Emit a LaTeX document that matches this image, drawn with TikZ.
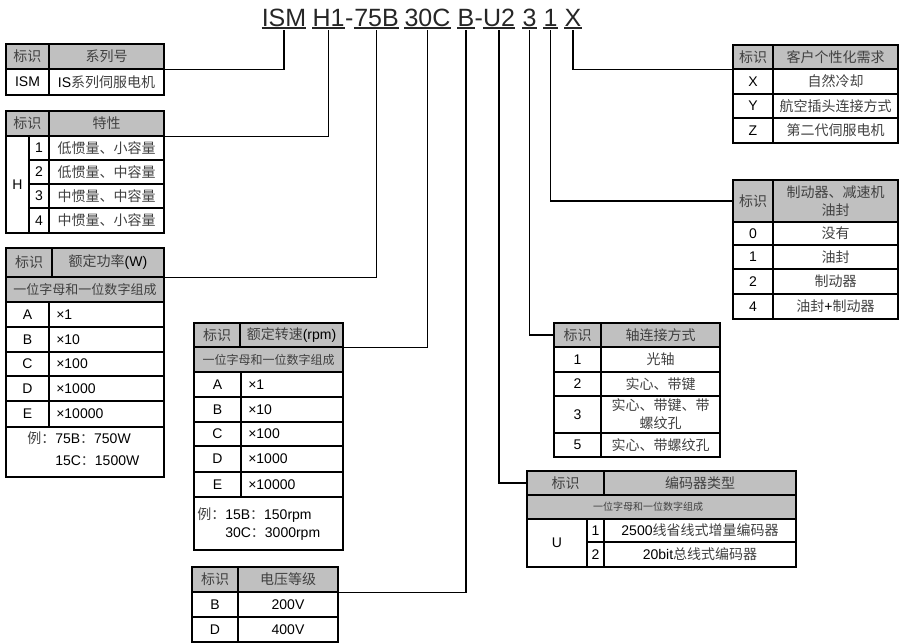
\documentclass[tikz,border=0pt]{standalone}
\usepackage{fontspec}
\setmainfont{Liberation Sans}
\newfontfamily\cjk{Noto Sans CJK SC}
\usetikzlibrary{fit}
\definecolor{hdr}{HTML}{C0C0C0}
\definecolor{cjkc}{HTML}{404040}
\newcommand\cj[1]{{\cjk\color{cjkc}#1}}
\newcommand\cel[7]{\node[cellbox,#6,fit={(#2,#3)(#4,#5)}] (#1) {};
  \node[txt,align=center] (#1t) at (#1.center) {#7};}
\begin{document}
\begin{tikzpicture}[x=0.75pt,y=-0.75pt,
  cellbox/.style={draw=black,line width=0.9pt,inner sep=0pt},
  hd/.style={fill=hdr},
  txt/.style={inner sep=0pt,font=\fontsize{10.5}{13.5}\selectfont},
  conn/.style={draw=black,line width=0.9pt},
  ttl/.style={inner sep=0pt,anchor=base,text=black!85,font=\fontsize{18.75}{20}\selectfont}]
\useasboundingbox (0,0) rectangle (903,643);

% ---------- title ----------
\node[ttl] (tISM) at (284,26) {ISM};
\node[ttl] (tH1) at (328.5,26) {H1};
\node[ttl] (tda) at (349.4,26) {-};
\node[ttl] (t75B) at (376.5,26) {75B};
\node[ttl] (t30C) at (427.5,26) {30C};
\node[ttl] (tB) at (466,26) {B};
\node[ttl] (tdb) at (478.7,26) {-};
\node[ttl] (tU2) at (499,26) {U2};
\node[ttl] (tn3) at (529.5,26) {3};
\node[ttl] (tn1) at (550.5,26) {1};
\node[ttl] (tX) at (573,26) {X};
\foreach \n in {tISM,tH1,t75B,t30C,tB,tU2,tn3,tn1,tX}
  \draw[line width=1.1pt,black!85] ([yshift=-1.6pt]\n.base west) -- ([yshift=-1.6pt]\n.base east);

% ---------- table: series ----------
\cel{a1}{6}{44}{49}{69}{hd}{\cj{标识}}
\cel{a2}{49}{44}{164}{69}{hd}{\cj{系列号}}
\cel{a3}{6}{69}{49}{95}{}{ISM}
\cel{a4}{49}{69}{164}{95}{}{IS\cj{系列伺服电机}}

% ---------- table: characteristic ----------
\cel{b1}{6}{111}{49}{136}{hd}{\cj{标识}}
\cel{b2}{49}{111}{164}{136}{hd}{\cj{特性}}
\cel{bH}{6}{136}{29}{233}{}{H}
\foreach \y/\yy/\n/\t [count=\i] in {136/160/1/低惯量、小容量,160/184/2/低惯量、中容量,184/208/3/中惯量、中容量,208/233/4/中惯量、小容量}{
  \cel{bN\i}{29}{\y}{49}{\yy}{}{\n}
  \cel{bT\i}{49}{\y}{164}{\yy}{}{\cj{\t}}
}

% ---------- table: rated power ----------
\cel{c1}{6}{248}{52}{277}{hd}{\cj{标识}}
\cel{c2}{52}{248}{164}{277}{hd}{\cj{额定功率}(W)}
\cel{c3}{6}{277}{164}{302}{hd}{\fontsize{9.75}{12}\selectfont\cj{一位字母和一位数字组成}}
\foreach \y/\yy/\L/\V [count=\i] in {302/327/A/1,327/352/B/10,352/376/C/100,376/401/D/1000,401/427/E/10000}{
  \cel{cL\i}{6}{\y}{49}{\yy}{}{\L}
  \cel{cV\i}{49}{\y}{164}{\yy}{}{}
  \node[txt,anchor=west] (cT\i) at (56,{(\y+\yy)/2}) {×\V};
}
\cel{cEx}{6}{427}{164}{477}{}{}
\node[txt,anchor=west,align=left] (cExT) at (27,449) {\cj{例：}75B\cj{：}750W\\[3pt]\phantom{\cj{例：}}15C\cj{：}1500W};

% ---------- table: rated speed ----------
\cel{d1}{194}{323}{240}{347}{hd}{\cj{标识}}
\cel{d2}{240}{323}{343}{347}{hd}{\cj{额定转速}(rpm)}
\cel{d3}{194}{347}{343}{372}{hd}{\fontsize{9}{11}\selectfont\cj{一位字母和一位数字组成}}
\foreach \y/\yy/\L/\V [count=\i] in {372/397/A/1,397/422/B/10,422/446/C/100,446/472/D/1000,472/497/E/10000}{
  \cel{dL\i}{194}{\y}{241}{\yy}{}{\L}
  \cel{dV\i}{241}{\y}{343}{\yy}{}{}
  \node[txt,anchor=west] (dT\i) at (248,{(\y+\yy)/2}) {×\V};
}
\cel{dEx}{194}{497}{343}{550}{}{}
\node[txt,anchor=west,align=left] (dExT) at (197,524) {\cj{例：}15B\cj{：}150rpm\\\phantom{\cj{例：}}30C\cj{：}3000rpm};

% ---------- table: voltage ----------
\cel{e1}{192}{567}{238}{592}{hd}{\cj{标识}}
\cel{e2}{238}{567}{338}{592}{hd}{\cj{电压等级}}
\cel{eL1}{192}{592}{238}{617}{}{B}
\cel{eV1}{238}{592}{338}{617}{}{200V}
\cel{eL2}{192}{617}{238}{642}{}{D}
\cel{eV2}{238}{617}{338}{642}{}{400V}

% ---------- table: encoder ----------
\cel{f1}{527}{471}{604}{495}{hd}{\cj{标识}}
\cel{f2}{604}{471}{796}{495}{hd}{\cj{编码器类型}}
\cel{f3}{527}{495}{796}{519}{hd}{}
\node[txt,font=\fontsize{7.5}{9}\selectfont] (f3T) at (648,507) {\cj{一位字母和一位数字组成}};
\cel{fU}{527}{519}{587}{567}{}{U}
\cel{fN1}{587}{519}{604}{542}{}{1}
\cel{fT1}{604}{519}{796}{542}{}{2500\cj{线省线式增量编码器}}
\cel{fN2}{587}{542}{604}{567}{}{2}
\cel{fT2}{604}{542}{796}{567}{}{20bit\cj{总线式编码器}}

% ---------- table: shaft ----------
\cel{g1}{554}{323}{601}{347}{hd}{\cj{标识}}
\cel{g2}{601}{323}{720}{347}{hd}{\cj{轴连接方式}}
\cel{gN1}{554}{347}{601}{372}{}{1}
\cel{gT1}{601}{347}{720}{372}{}{\cj{光轴}}
\cel{gN2}{554}{372}{601}{396}{}{2}
\cel{gT2}{601}{372}{720}{396}{}{\cj{实心、带键}}
\cel{gN3}{554}{396}{601}{433}{}{3}
\cel{gT3}{601}{396}{720}{433}{}{\cj{实心、带键、带}\\\cj{螺纹孔}}
\cel{gN4}{554}{433}{601}{457}{}{5}
\cel{gT4}{601}{433}{720}{457}{}{\cj{实心、带螺纹孔}}

% ---------- table: brake ----------
\cel{h1}{733}{180}{773}{222}{hd}{\cj{标识}}
\cel{h2}{773}{180}{898}{222}{hd}{\cj{制动器、减速机}\\\cj{油封}}
\foreach \y/\yy/\n/\t [count=\i] in {222/245/0/没有,245/269/1/油封,269/294/2/制动器}{
  \cel{hN\i}{733}{\y}{773}{\yy}{}{\n}
  \cel{hT\i}{773}{\y}{898}{\yy}{}{\cj{\t}}
}
\cel{hN4}{733}{294}{773}{319}{}{4}
\cel{hT4}{773}{294}{898}{319}{}{\cj{油封}+\cj{制动器}}

% ---------- table: customer ----------
\cel{i1}{733}{45}{773}{69}{hd}{\cj{标识}}
\cel{i2}{773}{45}{898}{69}{hd}{\cj{客户个性化需求}}
\foreach \y/\yy/\n/\t [count=\i] in {69/94/X/自然冷却,94/118/Y/航空插头连接方式,118/143/Z/第二代伺服电机}{
  \cel{iN\i}{733}{\y}{773}{\yy}{}{\n}
  \cel{iT\i}{773}{\y}{898}{\yy}{}{\cj{\t}}
}

% ---------- connectors ----------
\draw[conn] ([yshift=-3.2pt]tISM.base) |- (a2.south east);
\draw[conn] ([yshift=-3.2pt]tH1.base) |- (b2.south east);
\draw[conn] ([yshift=-3.2pt]t75B.base) |- (c2.south east);
\draw[conn] ([yshift=-3.2pt]t30C.base) |- (d2.south east);
\draw[conn] ([yshift=-3.2pt]tB.base) |- (e2.south east);
\draw[conn] ([yshift=-3.2pt]tU2.base) |- (f1.west);
\draw[conn] ([yshift=-3.2pt]tn3.base) |- (g1.west);
\draw[conn] ([yshift=-3.2pt]tn1.base) |- (h1.west);
\draw[conn] ([yshift=-3.2pt]tX.base) |- (i1.south west);
\end{tikzpicture}
\end{document}
